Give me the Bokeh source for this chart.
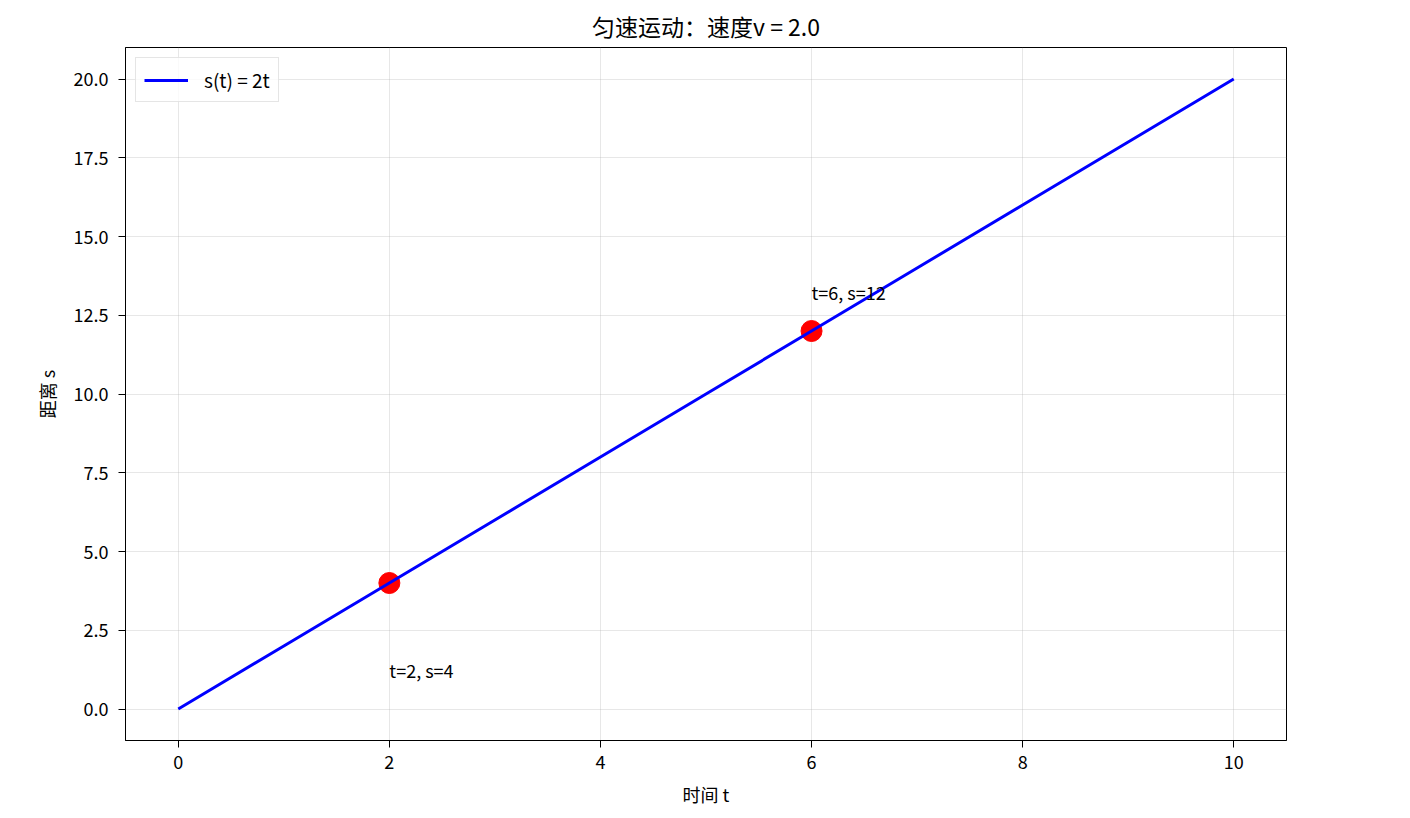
from bokeh.plotting import figure
from bokeh.models import Range1d, FixedTicker, PrintfTickFormatter, Legend, LegendItem, ColumnDataSource
from bokeh.embed import file_html
from bokeh.resources import INLINE
from bokeh.core.properties import value

FONT = "Noto Sans CJK SC"

title_text = "匀速运动：速度v = 2.0"
x_label = "时间 t"
y_label = "距离 s"
legend_label = "s(t) = 2t"

t_values = [0, 1, 2, 3, 4, 5, 6, 7, 8, 9, 10]
s_values = [0, 2, 4, 6, 8, 10, 12, 14, 16, 18, 20]

point_t = [2, 6]
point_s = [4, 12]

label_t = [2, 6]
label_s = [1, 13]
label_texts = ["t=2, s=4", "t=6, s=12"]

x_ticks = [0, 2, 4, 6, 8, 10]
y_ticks = [0, 2.5, 5, 7.5, 10, 12.5, 15, 17.5, 20]

p = figure(width=1400, height=810, output_backend="svg", toolbar_location=None,
           x_range=Range1d(-0.5, 10.5), y_range=Range1d(-1, 21),
           min_border_left=125, min_border_right=114, min_border_top=47, min_border_bottom=70,
           background_fill_color="white", border_fill_color="white")

p.title.text = title_text
p.title.align = "center"
p.title.text_font = FONT
p.title.text_font_size = "23px"
p.title.text_font_style = "normal"
p.title.text_color = "black"
p.title.standoff = 10

p.outline_line_color = "black"
p.outline_line_width = 1

for ax in (p.xaxis[0], p.yaxis[0]):
    ax.major_label_text_font = FONT
    ax.major_label_text_font_size = "18px"
    ax.major_label_text_color = "black"
    ax.axis_label_text_font = FONT
    ax.axis_label_text_font_size = "18px"
    ax.axis_label_text_font_style = "normal"
    ax.axis_label_text_color = "black"
    ax.major_tick_in = 0
    ax.major_tick_out = 7
    ax.major_tick_line_width = 1
    ax.minor_tick_line_color = None
    ax.axis_line_color = "black"
    ax.major_tick_line_color = "black"

p.xaxis.axis_label = x_label
p.yaxis.axis_label = y_label
p.xaxis.ticker = FixedTicker(ticks=x_ticks)
p.yaxis.ticker = FixedTicker(ticks=y_ticks)
p.yaxis.formatter = PrintfTickFormatter(format="%.1f")
p.xaxis.major_label_standoff = 7
p.yaxis.major_label_standoff = 10
p.xaxis.axis_label_standoff = 9
p.yaxis.axis_label_standoff = 11

p.xgrid.ticker = FixedTicker(ticks=x_ticks)
p.ygrid.ticker = FixedTicker(ticks=y_ticks)
for g in (p.xgrid[0], p.ygrid[0]):
    g.grid_line_color = "#b0b0b0"
    g.grid_line_alpha = 0.3
    g.grid_line_width = 1

pts = ColumnDataSource(dict(t=point_t, s=point_s))
p.scatter("t", "s", source=pts, size=21, fill_color="red", line_color="red", marker="circle")

line_src = ColumnDataSource(dict(t=t_values, s=s_values))
r_line = p.line("t", "s", source=line_src, line_color="blue", line_width=3)

lab = ColumnDataSource(dict(t=label_t, s=label_s, txt=label_texts))
p.text("t", "s", text="txt", source=lab, text_font=value(FONT), text_font_size="18px",
       text_color="black", text_align="left", text_baseline="alphabetic", y_offset=-8)

legend = Legend(items=[LegendItem(label=legend_label, renderers=[r_line])],
                location="top_left", label_text_font=FONT, label_text_font_size="19px",
                label_text_color="black", label_height=20,
                border_line_color="#cccccc", border_line_width=1, background_fill_alpha=0.8,
                glyph_width=44, glyph_height=20, padding=8, margin=10, label_standoff=16)
p.add_layout(legend)

open("out.html", "w").write(file_html(p, INLINE))
